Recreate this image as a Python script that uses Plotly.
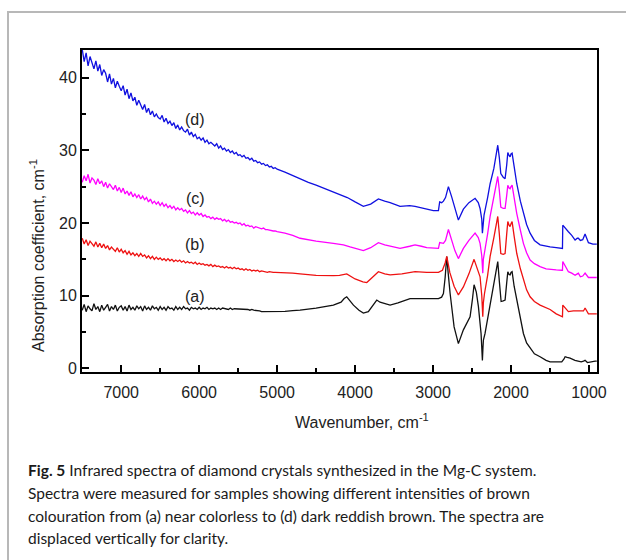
import plotly.graph_objects as go

# ---- sampling grid of the noisy high-wavenumber part (cm^-1), 7500 .. 5000 every 25 ----
wn_noisy = list(range(7500, 4999, -25))

# ---- (d) dark reddish brown : blue ----
d_noisy = [43.9, 42.2, 43.4, 41.6, 42.9, 41.9, 41.2, 42.3, 40.9, 41.8,
           40.3, 41.1, 40.6, 39.4, 40.5, 39.1, 39.9, 38.6, 39.5, 38.8,
           38.2, 38.9, 37.6, 38.4, 37.1, 37.9, 36.8, 37.3, 36.2, 36.9,
           36.1, 35.6, 36.3, 35.2, 35.8, 34.9, 35.4, 34.6, 35.0, 34.5,
           34.3, 34.8, 33.9, 34.4, 33.7, 34.0, 33.4, 33.8, 33.0, 33.5,
           32.8, 33.2, 32.7, 32.5, 32.9, 32.1, 32.5, 31.9, 32.2, 31.6,
           31.8, 31.4, 31.7, 31.1, 31.4, 30.9, 31.1, 30.8, 30.6, 30.9,
           30.3, 30.6, 30.1, 30.3, 29.9, 30.1, 29.7, 29.9, 29.5, 29.7,
           29.3, 29.4, 29.1, 29.3, 28.9, 29.0, 28.7, 28.9, 28.5, 28.6,
           28.3, 28.4, 28.1, 28.2, 27.9, 28.0, 27.7, 27.8, 27.5, 27.6,
           27.4]
d_wn = [4900, 4800, 4700, 4600, 4500, 4400, 4300, 4200, 4100, 4000, 3894, 3800, 3701, 3620, 3551, 3423, 3300,
        3231, 3081, 2996, 2931, 2915, 2890, 2867, 2840, 2803, 2761, 2720, 2675, 2611, 2540, 2461, 2420, 2397,
        2375, 2367, 2360, 2346, 2300, 2268, 2220, 2185, 2170, 2150, 2131, 2100, 2076, 2055, 2041, 2025, 2012,
        2000, 1986, 1960, 1926, 1880, 1841, 1800, 1755, 1700, 1627, 1550, 1499, 1420, 1349, 1340, 1336, 1300,
        1264, 1221, 1178, 1150, 1136, 1110, 1080, 1050, 1030, 1007, 950, 921, 900]
d_val = [27.0, 26.5, 26.0, 25.6, 25.2, 24.8, 24.4, 24.0, 23.5, 22.9, 22.3, 22.6, 23.3, 23.0, 22.8, 22.3, 22.4,
         22.3, 21.9, 21.7, 21.7, 22.9, 22.8, 23.0, 23.5, 25.0, 23.6, 22.0, 20.4, 21.9, 22.8, 23.4, 22.8, 22.0,
         20.5, 18.6, 20.0, 21.1, 23.5, 25.4, 27.5, 29.5, 30.7, 29.0, 26.8, 26.3, 26.1, 28.0, 29.7, 29.3, 29.1,
         29.5, 29.6, 27.8, 25.4, 23.0, 21.3, 19.8, 18.6, 17.6, 17.0, 16.8, 16.7, 16.6, 16.5, 16.5, 19.7, 19.2,
         18.8, 18.3, 17.65, 17.9, 17.9, 17.6, 17.7, 18.5, 17.9, 17.3, 17.1, 17.1, 17.1]

# ---- (c) : magenta ----
c_noisy = [25.6, 26.5, 25.8, 26.7, 25.5, 26.2, 25.9, 25.3, 26.1, 25.4,
           25.8, 25.0, 25.6, 24.8, 25.4, 24.9, 24.6, 25.2, 24.4, 24.9,
           24.2, 24.8, 24.0, 24.4, 23.8, 24.3, 23.6, 24.0, 23.5, 23.9,
           23.3, 23.7, 23.2, 23.5, 22.9, 23.3, 22.7, 23.0, 22.6, 22.9,
           22.4, 22.8, 22.3, 22.6, 22.1, 22.4, 22.0, 22.3, 21.8, 22.1,
           21.8, 22.0, 21.6, 21.8, 21.4, 21.7, 21.3, 21.5, 21.1, 21.4,
           21.1, 21.3, 20.9, 21.1, 20.8, 20.9, 20.6, 20.8, 20.5, 20.7,
           20.5, 20.6, 20.3, 20.5, 20.2, 20.4, 20.1, 20.2, 20.0, 20.1,
           19.9, 20.0, 19.7, 19.9, 19.6, 19.7, 19.5, 19.6, 19.3, 19.5,
           19.4, 19.4, 19.2, 19.3, 19.1, 19.1, 19.0, 19.0, 18.9, 18.9,
           18.8]
c_wn = [4900, 4800, 4706, 4500, 4279, 4150, 4064, 3894, 3800, 3701, 3620, 3551, 3423, 3300, 3231, 3150, 3081,
        2931, 2915, 2867, 2840, 2803, 2761, 2720, 2675, 2611, 2540, 2461, 2420, 2397, 2375, 2362, 2355, 2340,
        2300, 2268, 2220, 2185, 2170, 2150, 2131, 2100, 2076, 2055, 2041, 2025, 2012, 2000, 1986, 1960, 1926,
        1880, 1841, 1800, 1755, 1700, 1627, 1550, 1499, 1420, 1349, 1340, 1336, 1300, 1264, 1221, 1178, 1150,
        1136, 1110, 1080, 1050, 1030, 1007, 950, 900]
c_val = [18.6, 18.3, 17.9, 17.5, 17.2, 17.0, 16.7, 16.2, 16.6, 17.3, 17.0, 16.8, 16.5, 16.8, 17.0, 16.8, 16.6,
         16.5, 17.3, 17.2, 17.6, 19.1, 17.6, 16.2, 15.1, 16.5, 17.6, 18.6, 18.0, 17.2, 15.5, 13.1, 15.0, 15.9,
         18.5, 20.9, 23.5, 25.5, 26.4, 24.5, 22.2, 22.0, 22.0, 23.8, 25.2, 24.8, 24.7, 25.0, 25.2, 23.5, 21.3,
         19.0, 17.2, 15.9, 14.9, 14.4, 14.0, 13.7, 13.6, 13.55, 13.5, 13.5, 14.7, 13.9, 13.3, 13.1, 12.8, 13.0,
         13.1, 12.6, 12.7, 13.1, 12.8, 12.5, 12.5, 12.5]

# ---- (b) : red ----
b_noisy = [17.9, 17.1, 17.7, 16.9, 17.5, 17.2, 16.8, 17.4, 16.7, 17.2,
           16.6, 17.1, 16.5, 16.9, 16.3, 16.7, 16.4, 16.1, 16.6, 16.0,
           16.4, 15.9, 16.2, 15.7, 16.1, 15.6, 15.9, 15.5, 15.8, 15.4,
           15.8, 15.4, 15.6, 15.2, 15.5, 15.1, 15.4, 15.0, 15.3, 15.0,
           15.2, 14.9, 15.1, 14.8, 15.1, 14.8, 15.0, 14.7, 14.9, 14.7,
           14.9, 14.6, 14.8, 14.5, 14.7, 14.5, 14.6, 14.4, 14.6, 14.3,
           14.5, 14.3, 14.4, 14.2, 14.3, 14.1, 14.3, 14.0, 14.2, 14.0,
           14.1, 13.9, 14.0, 13.8, 14.0, 13.8, 13.9, 13.7, 13.9, 13.7,
           13.8, 13.6, 13.7, 13.5, 13.7, 13.5, 13.6, 13.4, 13.5, 13.4,
           13.5, 13.3, 13.4, 13.3, 13.3, 13.2, 13.3, 13.2, 13.2, 13.2,
           13.2]
b_wn = [4900, 4800, 4706, 4500, 4279, 4200, 4107, 4060, 4000, 3900, 3850, 3780, 3701, 3620, 3551, 3400, 3231,
        3081, 2931, 2880, 2845, 2824, 2805, 2785, 2730, 2675, 2611, 2540, 2474, 2440, 2397, 2375, 2362, 2355,
        2340, 2300, 2268, 2220, 2185, 2170, 2150, 2131, 2100, 2076, 2055, 2041, 2025, 2012, 2000, 1986, 1960,
        1926, 1880, 1841, 1800, 1755, 1700, 1627, 1550, 1499, 1420, 1349, 1340, 1336, 1300, 1264, 1200, 1150,
        1100, 1070, 1050, 1030, 1007, 950, 900]
b_val = [13.15, 13.1, 13.0, 12.8, 12.75, 12.8, 13.0, 12.7, 12.3, 11.9, 11.8, 12.5, 13.3, 13.0, 12.85, 13.0, 13.3,
         13.2, 13.2, 13.5, 14.5, 15.4, 14.5, 13.2, 11.3, 10.1, 11.2, 13.0, 15.0, 13.8, 12.6, 10.0, 7.1, 9.0,
         10.3, 12.8, 15.4, 18.0, 20.0, 20.9, 18.5, 15.8, 15.7, 15.8, 18.5, 20.2, 19.7, 19.5, 19.9, 20.2, 18.2,
         15.8, 13.7, 12.1, 10.8, 9.85, 9.2, 8.7, 8.3, 8.1, 7.5, 7.1, 7.1, 8.7, 8.2, 7.8, 7.9, 7.9,
         8.0, 7.9, 8.3, 7.9, 7.5, 7.5, 7.5]

# ---- (a) near colorless : black ----
a_noisy = [8.0, 8.8, 7.8, 8.6, 8.2, 7.9, 8.9, 8.1, 8.5, 7.8,
           8.7, 8.0, 8.4, 8.8, 7.9, 8.5, 8.1, 8.7, 7.9, 8.4,
           8.6, 8.0, 8.5, 7.9, 8.7, 8.1, 8.4, 8.0, 8.6, 8.2,
           8.5, 7.9, 8.6, 8.1, 8.4, 8.0, 8.6, 8.2, 8.4, 8.0,
           8.5, 8.1, 8.4, 8.0, 8.5, 8.2, 8.3, 8.0, 8.5, 8.1,
           8.4, 8.1, 8.5, 8.2, 8.3, 8.0, 8.4, 8.2, 8.3, 8.1,
           8.4, 8.1, 8.3, 8.2, 8.4, 8.1, 8.3, 8.2, 8.3, 8.1,
           8.3, 8.1, 8.3, 8.2, 8.2, 8.1, 8.3, 8.1, 8.2, 8.2,
           8.1, 8.2, 8.1, 8.2, 8.1, 8.1, 8.0, 8.1, 8.0, 8.0,
           7.9, 7.9, 7.8, 7.8, 7.8, 7.75, 7.8, 7.75, 7.8, 7.8,
           7.8]
a_wn = [4900, 4800, 4706, 4500, 4279, 4180, 4140, 4107, 4080, 4021, 3950, 3894, 3830, 3770, 3722, 3680, 3551,
        3450, 3295, 3081, 2931, 2890, 2867, 2845, 2824, 2805, 2781, 2730, 2675, 2611, 2525, 2495, 2474, 2445,
        2418, 2384, 2367, 2360, 2354, 2333, 2290, 2247, 2200, 2170, 2150, 2127, 2100, 2076, 2055, 2041, 2025,
        2012, 2000, 1986, 1960, 1926, 1880, 1841, 1800, 1755, 1700, 1627, 1550, 1499, 1400, 1349, 1320, 1306,
        1280, 1242, 1180, 1136, 1100, 1070, 1050, 1020, 986, 950, 921, 900]
a_val = [7.85, 7.95, 8.0, 8.3, 8.7, 9.1, 9.6, 9.85, 9.5, 8.7, 8.0, 7.6, 7.8, 8.7, 9.4, 9.1, 8.7,
         9.0, 9.6, 9.6, 9.6, 9.8, 10.3, 12.5, 15.4, 13.0, 10.3, 5.7, 3.4, 5.3, 7.1, 9.5, 11.5, 10.5,
         8.5, 4.8, 1.1, 2.8, 3.9, 4.8, 7.5, 10.3, 12.8, 14.7, 12.0, 9.2, 9.3, 9.4, 11.8, 13.3, 12.9,
         12.85, 13.2, 13.3, 11.3, 9.4, 6.8, 4.8, 3.5, 2.75, 2.0, 1.6, 1.1, 0.9, 0.85, 0.9, 1.3, 1.6,
         1.5, 1.4, 1.1, 1.0, 0.9, 1.0, 1.1, 0.8, 0.9, 1.0, 1.0, 1.0]

series = [
    ("(a)", a_noisy, a_wn, a_val, "#111111"),
    ("(b)", b_noisy, b_wn, b_val, "#ee1111"),
    ("(c)", c_noisy, c_wn, c_val, "#ff00ff"),
    ("(d)", d_noisy, d_wn, d_val, "#1010e0"),
]

curve_labels = ["(d)", "(c)", "(b)", "(a)"]
label_y = [34.3, 23.4, 17.1, 9.9]
label_x = 6053

x_ticks = [7000, 6000, 5000, 4000, 3000, 2000, 1000]
y_ticks = [0, 10, 20, 30, 40]

caption_lines = [
    "<b>Fig. 5</b> Infrared spectra of diamond crystals synthesized in the Mg-C system.",
    "Spectra were measured for samples showing different intensities of brown",
    "colouration from (a) near colorless to (d) dark reddish brown. The spectra are",
    "displaced vertically for clarity.",
]

fig = go.Figure()
for name, noisy, wn, val, col in series:
    fig.add_trace(go.Scatter(
        x=wn_noisy[:len(noisy)] + wn, y=noisy + val, mode="lines", name=name,
        line=dict(color=col, width=1.3), showlegend=False, hoverinfo="skip"))

font_main = "Liberation Sans, Arial, sans-serif"
for lab, ly in zip(curve_labels, label_y):
    fig.add_annotation(x=label_x, y=ly, text=lab, showarrow=False, xanchor="center", yanchor="middle",
                       font=dict(family=font_main, size=16, color="#222"))

# plot area (px): left 82, right 597, top 50, bottom 372 -> paper coords for outer elements
L, R, T, B = 82, 597, 50, 372
W, H = R - L, B - T
def px(x):
    return (x - L) / W
def py(y):
    return (B - y) / H

fig.add_annotation(xref="paper", yref="paper", x=px(37), y=py(256), xanchor="center", yanchor="middle",
                   text="Absorption coefficient, cm<sup>-1</sup>",
                   textangle=-90, showarrow=False, font=dict(family=font_main, size=16, color="#222"))
fig.add_annotation(xref="paper", yref="paper", x=px(362), y=py(421), xanchor="center", yanchor="middle",
                   text="Wavenumber, cm<sup>-1</sup>",
                   showarrow=False, font=dict(family=font_main, size=16, color="#222"))

cap_y = [470, 493, 516, 538]
for t, yy in zip(caption_lines, cap_y):
    fig.add_annotation(xref="paper", yref="paper", x=px(26), y=py(yy), xanchor="left", yanchor="middle",
                       text=t, showarrow=False, font=dict(family="Lato, sans-serif", size=15.5, color="#1a1a1a"))

fig.add_shape(type="rect", xref="paper", yref="paper", x0=px(8), y0=py(590), x1=px(660), y1=py(12),
              line=dict(color="#b8b8b8", width=2), fillcolor="rgba(0,0,0,0)", layer="below")

fig.update_xaxes(range=[7503, 897], tickvals=x_ticks, ticks="inside", ticklen=7, tickwidth=2, tickcolor="black",
                 showline=True, linecolor="black", linewidth=2, mirror=True, showgrid=False, zeroline=False,
                 ticklabelstandoff=5,
                 tickfont=dict(family=font_main, size=16, color="#222"),
                 minor=dict(tickvals=[7500, 6500, 5500, 4500, 3500, 2500, 1500], ticks="inside", ticklen=4,
                            tickwidth=2, tickcolor="black", showgrid=False))
fig.update_yaxes(range=[-0.5, 43.8], tickvals=y_ticks, ticks="inside", ticklen=7, tickwidth=2, tickcolor="black",
                 showline=True, linecolor="black", linewidth=2, mirror=True, showgrid=False, zeroline=False,
                 tickfont=dict(family=font_main, size=16, color="#222"),
                 minor=dict(tickvals=[5, 15, 25, 35], ticks="inside", ticklen=4, tickwidth=2,
                            tickcolor="black", showgrid=False))

fig.update_layout(width=626, height=560, margin=dict(l=L, r=626 - R, t=T, b=560 - B),
                  plot_bgcolor="white", paper_bgcolor="white")

fig.write_html("out.html")
